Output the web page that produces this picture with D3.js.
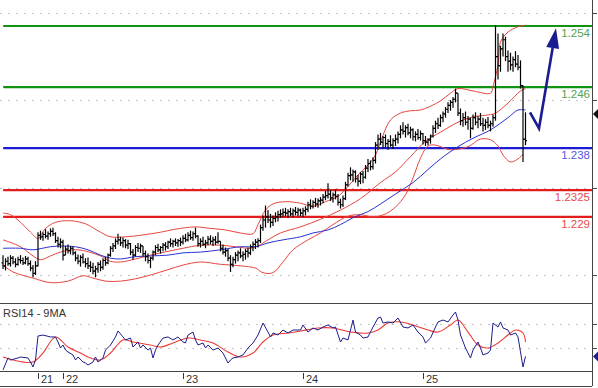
<!DOCTYPE html>
<html>
<head>
<meta charset="utf-8">
<script src="https://cdn.jsdelivr.net/npm/d3@7"></script>
<style>
  body { margin: 0; background: #fff; }
  svg { display: block; }
  text { font-family: "Liberation Sans", Arial, sans-serif; }
</style>
</head>
<body>
<svg id="chart" width="598" height="388"></svg>
<script>
// 30 min bars, prices
const highs = [
  1.2240,1.2236,1.2238,1.2240,1.2239,1.2236,1.2238,1.2240,1.2237,1.2239,1.2238,1.2233,1.2227,1.2232,
  1.2270,1.2272,1.2270,1.2274,1.2271,1.2275,1.2276,1.2270,1.2264,1.2262,1.2260,
  1.2252,1.2254,1.2252,1.2251,1.2245,1.2241,1.2240,1.2242,1.2236,
  1.2237,1.2232,1.2230,1.2226,1.2231,1.2233,1.2236,1.2238,1.2242,
  1.2252,1.2256,1.2262,1.2268,1.2264,1.2263,1.2261,1.2260,
  1.2256,1.2248,1.2253,1.2256,1.2255,1.2252,1.2246,1.2242,1.2238,1.2246,
  1.2253,1.2255,1.2252,1.2256,1.2257,1.2259,1.2262,1.2260,1.2262,1.2261,1.2263,
  1.2266,1.2268,1.2270,1.2272,1.2271,1.2276,
  1.2266,1.2262,1.2264,1.2260,1.2265,1.2266,1.2264,1.2265,1.2270,
  1.2258,1.2254,1.2250,1.2248,1.2240,1.2238,1.2244,
  1.2246,1.2249,1.2245,1.2248,1.2250,1.2254,1.2258,1.2261,1.2262,
  1.2280,1.2292,1.2305,1.2299,1.2294,1.2292,1.2296,1.2298,
  1.2300,1.2301,1.2302,1.2300,1.2302,1.2301,1.2303,1.2302,1.2301,1.2302,1.2304,
  1.2310,1.2313,1.2312,1.2315,1.2314,1.2316,1.2320,1.2324,1.2334,1.2325,1.2322,1.2326,1.2320,1.2314,1.2318,
  1.2336,1.2348,1.2355,1.2352,1.2351,1.2345,1.2349,1.2350,1.2358,1.2366,1.2364,1.2368,
  1.2388,1.2398,1.2400,1.2396,1.2398,1.2392,1.2397,1.2393,1.2398,1.2402,
  1.2410,1.2414,1.2410,1.2412,1.2408,1.2406,1.2402,1.2405,1.2403,1.2400,1.2396,1.2393,1.2398,
  1.2410,1.2416,1.2420,1.2424,1.2428,1.2434,1.2440,1.2443,1.2447,1.2458,
  1.2452,1.2432,1.2426,1.2428,1.2422,1.2420,1.2424,1.2427,1.2422,1.2426,1.2420,1.2418,1.2421,1.2416,1.2424,
  1.2541,1.2530,1.2514,1.2530,1.2526,1.2508,1.2505,1.2500,1.2507,1.2502,1.2495,1.2462,1.2427
];
const lows = [
  1.2222,1.2220,1.2226,1.2225,1.2228,1.2224,1.2226,1.2229,1.2227,1.2228,1.2226,1.2219,1.2211,1.2214,
  1.2225,1.2260,1.2259,1.2262,1.2260,1.2264,1.2265,1.2256,1.2250,1.2249,1.2233,
  1.2240,1.2242,1.2241,1.2240,1.2232,1.2228,1.2225,1.2229,1.2224,
  1.2222,1.2218,1.2215,1.2211,1.2217,1.2219,1.2221,1.2226,1.2228,
  1.2238,1.2244,1.2248,1.2254,1.2252,1.2250,1.2249,1.2248,
  1.2240,1.2234,1.2238,1.2244,1.2243,1.2238,1.2232,1.2229,1.2223,1.2233,
  1.2240,1.2244,1.2242,1.2245,1.2246,1.2248,1.2251,1.2250,1.2252,1.2251,1.2252,
  1.2254,1.2257,1.2258,1.2260,1.2259,1.2262,
  1.2251,1.2250,1.2252,1.2249,1.2253,1.2254,1.2252,1.2253,1.2255,
  1.2245,1.2241,1.2238,1.2232,1.2218,1.2224,1.2229,
  1.2232,1.2236,1.2232,1.2234,1.2237,1.2240,1.2245,1.2248,1.2250,
  1.2256,1.2272,1.2276,1.2282,1.2276,1.2278,1.2283,1.2284,
  1.2289,1.2290,1.2291,1.2289,1.2291,1.2290,1.2292,1.2291,1.2291,1.2290,1.2292,
  1.2296,1.2300,1.2301,1.2303,1.2302,1.2305,1.2308,1.2312,1.2314,1.2311,1.2309,1.2313,1.2305,1.2301,1.2303,
  1.2312,1.2330,1.2338,1.2336,1.2335,1.2330,1.2333,1.2334,1.2340,1.2349,1.2351,1.2352,
  1.2360,1.2378,1.2384,1.2380,1.2381,1.2378,1.2382,1.2379,1.2383,1.2386,
  1.2393,1.2398,1.2394,1.2397,1.2393,1.2390,1.2389,1.2391,1.2390,1.2385,1.2383,1.2384,1.2386,
  1.2394,1.2400,1.2405,1.2408,1.2414,1.2420,1.2426,1.2429,1.2433,1.2440,
  1.2422,1.2410,1.2408,1.2410,1.2404,1.2393,1.2404,1.2410,1.2406,1.2409,1.2402,1.2404,1.2406,1.2402,1.2408,
  1.2416,1.2470,1.2480,1.2500,1.2494,1.2480,1.2482,1.2480,1.2486,1.2482,1.2458,1.2362,1.2384
];
const closes = [
  1.2226,1.2232,1.2229,1.2236,1.2231,1.2228,1.2234,1.2233,1.2230,1.2235,1.2229,1.2223,1.2216,1.2226,
  1.2266,1.2264,1.2267,1.2265,1.2268,1.2271,1.2268,1.2259,1.2254,1.2257,1.2240,
  1.2248,1.2246,1.2249,1.2243,1.2236,1.2232,1.2237,1.2231,1.2229,
  1.2226,1.2224,1.2219,1.2222,1.2228,1.2224,1.2233,1.2230,1.2240,
  1.2249,1.2252,1.2258,1.2260,1.2256,1.2259,1.2253,1.2255,
  1.2244,1.2240,1.2250,1.2249,1.2252,1.2242,1.2238,1.2233,1.2236,1.2244,
  1.2250,1.2247,1.2250,1.2253,1.2251,1.2257,1.2255,1.2258,1.2256,1.2259,1.2257,
  1.2262,1.2260,1.2266,1.2263,1.2268,1.2265,
  1.2255,1.2258,1.2254,1.2256,1.2261,1.2258,1.2260,1.2257,1.2258,
  1.2249,1.2244,1.2246,1.2236,1.2228,1.2234,1.2240,
  1.2243,1.2239,1.2241,1.2245,1.2243,1.2251,1.2254,1.2257,1.2259,
  1.2276,1.2286,1.2290,1.2286,1.2283,1.2288,1.2290,1.2293,
  1.2294,1.2296,1.2295,1.2297,1.2294,1.2298,1.2296,1.2299,1.2295,1.2298,1.2300,
  1.2306,1.2304,1.2309,1.2307,1.2311,1.2312,1.2316,1.2318,1.2320,1.2315,1.2319,1.2317,1.2309,1.2306,1.2314,
  1.2332,1.2344,1.2345,1.2349,1.2340,1.2337,1.2346,1.2342,1.2354,1.2360,1.2356,1.2364,
  1.2384,1.2392,1.2388,1.2394,1.2386,1.2389,1.2384,1.2390,1.2392,1.2398,
  1.2404,1.2402,1.2407,1.2400,1.2404,1.2395,1.2398,1.2394,1.2399,1.2390,1.2388,1.2391,1.2396,
  1.2406,1.2412,1.2410,1.2420,1.2425,1.2431,1.2436,1.2440,1.2444,1.2452,
  1.2426,1.2416,1.2420,1.2414,1.2418,1.2406,1.2420,1.2414,1.2418,1.2412,1.2410,1.2414,1.2410,1.2412,1.2420,
  1.2500,1.2488,1.2510,1.2522,1.2500,1.2494,1.2489,1.2496,1.2490,1.2486,1.2462,1.2392,1.2390
];

// Bollinger bands and long moving average, read as [bar, price]
const bbUpper = [[0,1.2295],[3,1.2293],[7,1.2283],[11,1.2270],[14,1.2262],[17,1.2275],[21,1.2283],[27,1.2285],
  [33,1.2281],[39,1.2270],[43,1.2264],[49,1.2264],[55,1.2266],[63,1.2270],[69,1.2274],[77,1.2277],[83,1.2275],
  [89,1.2273],[95,1.2269],[100,1.2268],[102,1.2280],[105,1.2299],[108,1.2307],[113,1.2310],[119,1.2308],
  [124,1.2304],[129,1.2310],[134,1.2317],[138,1.2330],[142,1.2345],[146,1.2358],[149,1.2371],[152,1.2397],
  [155,1.2417],[159,1.2426],[163,1.2429],[167,1.2430],[171,1.2435],[175,1.2442],[179,1.2452],[182,1.2458],
  [188,1.2455],[195,1.2452],[196,1.2461],[198,1.2489],[199,1.2519],[202,1.2532],[206,1.2539],[209,1.2541]];
const bbMiddle = [[0,1.2260],[7,1.2251],[12,1.2239],[15,1.2234],[19,1.2239],[23,1.2244],[30,1.2247],[39,1.2239],
  [43,1.2232],[47,1.2231],[53,1.2235],[59,1.2240],[66,1.2245],[72,1.2249],[79,1.2253],[87,1.2253],[93,1.2251],
  [99,1.2249],[102,1.2252],[106,1.2260],[111,1.2269],[119,1.2277],[127,1.2287],[135,1.2299],[143,1.2314],
  [151,1.2335],[157,1.2349],[163,1.2369],[169,1.2389],[175,1.2401],[182,1.2414],[188,1.2421],[195,1.2424],
  [197,1.2426],[202,1.2439],[207,1.2455],[209,1.2458]];
const bbLower = [[0,1.2227],[4,1.2218],[12,1.2210],[19,1.2204],[26,1.2206],[32,1.2213],[36,1.2210],[41,1.2206],
  [47,1.2206],[53,1.2209],[59,1.2214],[66,1.2221],[72,1.2227],[79,1.2231],[87,1.2228],[95,1.2226],[101,1.2223],
  [104,1.2217],[108,1.2217],[112,1.2231],[116,1.2247],[122,1.2260],[127,1.2269],[132,1.2280],[138,1.2291],
  [143,1.2293],[148,1.2290],[153,1.2294],[157,1.2303],[161,1.2319],[164,1.2341],[167,1.2367],[170,1.2383],
  [173,1.2384],[179,1.2378],[186,1.2382],[191,1.2392],[195,1.2391],[198,1.2383],[200,1.2371],[203,1.2362],
  [206,1.2366],[208,1.2372]];
const longMA = [[0,1.2249],[7,1.2249],[12,1.2247],[19,1.2251],[24,1.2252],[29,1.2251],[34,1.2247],[39,1.2240],
  [43,1.2236],[47,1.2235],[53,1.2238],[59,1.2239],[66,1.2240],[72,1.2243],[79,1.2244],[87,1.2247],[95,1.2251],
  [101,1.2251],[106,1.2256],[112,1.2260],[119,1.2264],[124,1.2269],[130,1.2273],[135,1.2280],[140,1.2289],
  [146,1.2297],[151,1.2307],[157,1.2320],[164,1.2335],[170,1.2352],[175,1.2366],[182,1.2382],[188,1.2393],
  [195,1.2404],[202,1.2420],[206,1.2430],[209,1.2430]];

// RSI14 and its 9 period average, [bar, value]
const rsi = [[0,21.7],[2,31.7],[3,30],[6,31.7],[7,32.5],[10,31.7],[11,28.3],[12,24.2],[13,30],[14,50],[16,50.8],
  [19,49.2],[21,49.2],[22,45],[23,40],[24,42.5],[25,38.3],[26,36.7],[28,34.2],[29,30],[30,32.5],[32,28.3],
  [33,27.5],[34,25.8],[36,28.3],[37,32.5],[38,28.3],[40,31.7],[41,38.3],[43,42.5],[45,49.2],[46,54.2],[48,49.2],
  [49,46.7],[51,48.3],[52,40.8],[54,45],[55,40],[56,42.5],[58,38.3],[59,40],[60,31.7],[61,38.3],[62,42.5],
  [64,48.3],[66,49.2],[68,46.7],[70,49.2],[72,45],[73,44.2],[74,50.8],[76,53.3],[77,46.7],[78,42.5],[80,44.2],
  [81,40],[82,42.5],[84,38.3],[86,40],[88,35.8],[90,27.5],[91,30],[92,31.7],[94,32.5],[96,34.2],[98,40],
  [100,44.2],[102,50.8],[104,60.8],[106,53.3],[107,49.2],[108,52.5],[110,50.8],[112,55],[114,52.5],[116,55],
  [119,55],[120,59.2],[122,53.3],[124,56.7],[126,55],[128,57.5],[130,59.2],[132,56.7],[133,57.5],[135,45],
  [136,48.3],[138,46.7],[140,63.3],[141,53.3],[143,50.8],[144,48.3],[146,49.2],[148,57.5],[150,65],[151,65.8],
  [152,60.8],[154,61.7],[156,60.8],[158,65],[160,57.5],[162,56.7],[164,59.2],[166,53.3],[168,49.2],[169,44.2],
  [171,48.3],[173,57.5],[174,61.7],[176,63.3],[178,61.7],[180,67.5],[181,70],[182,63.3],[183,50.8],[185,40],
  [187,31.7],[188,38.3],[190,45],[191,40],[192,34.2],[194,35.8],[195,38.3],[196,60.8],[198,57.5],[199,61.7],
  [200,56.7],[202,55],[203,50.8],[205,52.5],[206,49.2],[207,36.7],[208,24.2],[209,33]];
const rsiMA = [[0,32.5],[4,30],[12,28.3],[16,35.8],[21,49.2],[26,40.8],[31,35.8],[35,31.7],[39,30],[43,35.8],
  [48,46.7],[52,45],[59,42.5],[63,40.8],[68,44.2],[74,48.3],[79,46.7],[84,44.2],[90,36.7],[95,32.5],[100,35.8],
  [104,45],[108,50.8],[114,52.5],[119,54.2],[126,56.7],[132,56.7],[139,53.3],[146,52.5],[150,55],[154,60.8],
  [159,61.7],[164,59.2],[170,55],[174,53.3],[179,59.2],[182,63.3],[186,53.3],[190,42.5],[194,40],[198,44.2],
  [202,50.8],[205,55],[208,52.5],[209,45]];

// horizontal support / resistance levels
const levels = [1.254, 1.246, 1.238, 1.2325, 1.229];
const levelLabels = ["1.254", "1.246", "1.238", "1.2325", "1.229"];
const levelKinds = ["res", "res", "pivot", "sup", "sup"];

// projected path drawn after the last bar, [bar, price]
const projection = [[210.8, 1.2427], [214.4, 1.2406], [221.2, 1.2537]];

const priceGrid = [1.2214, 1.2328, 1.2443, 1.2557];
const rsiGrid = [40, 60];
const dayStarts = [14, 24, 72, 120, 168];
const dayLabels = ["21", "22", "23", "24", "25"];

const plotRight = 592;
const main = { top: 0, bottom: 303 };
const sub = { top: 304, bottom: 371 };
const axisBottom = 386;

const levelColor = { res: "#129412", pivot: "#1c1cd6", sup: "#e31c1c" };
const labelColor = { res: "#52a352", pivot: "#5656dc", sup: "#e64a4a" };

const svg = d3.select("#chart");

const x = d3.scaleLinear().domain([0, 209]).range([3, 525.5]);
const y = d3.scaleLinear().domain([1.2214, 1.2557]).range([275, 13]);
const yr = d3.scaleLinear().domain([40, 60]).range([348, 324]);

const defs = svg.append("defs");
defs.append("clipPath").attr("id", "clipMain")
  .append("rect").attr("x", 0).attr("y", main.top).attr("width", plotRight).attr("height", main.bottom - main.top);
defs.append("clipPath").attr("id", "clipSub")
  .append("rect").attr("x", 0).attr("y", sub.top).attr("width", plotRight).attr("height", sub.bottom - sub.top);

// dotted grid
svg.append("g")
  .selectAll("line")
  .data(priceGrid)
  .join("line")
    .attr("x1", 0).attr("x2", plotRight)
    .attr("y1", d => Math.round(y(d)) + 0.5).attr("y2", d => Math.round(y(d)) + 0.5)
    .attr("stroke", "#c4c4c4").attr("stroke-dasharray", "2 6");
svg.append("g")
  .selectAll("line")
  .data(rsiGrid)
  .join("line")
    .attr("x1", 0).attr("x2", plotRight)
    .attr("y1", d => Math.round(yr(d)) + 0.5).attr("y2", d => Math.round(yr(d)) + 0.5)
    .attr("stroke", "#c4c4c4").attr("stroke-dasharray", "2 6");

// levels
const lev = svg.append("g");
lev.selectAll("line")
  .data(levels)
  .join("line")
    .attr("x1", 4).attr("x2", plotRight)
    .attr("y1", d => y(d)).attr("y2", d => y(d))
    .attr("stroke", (d, i) => levelColor[levelKinds[i]])
    .attr("stroke-width", 2.2)
    .attr("stroke-linecap", "round");
lev.selectAll("text")
  .data(levels)
  .join("text")
    .attr("x", plotRight - 2)
    .attr("y", d => y(d) + 11)
    .attr("text-anchor", "end")
    .attr("font-size", 11.5)
    .attr("fill", (d, i) => labelColor[levelKinds[i]])
    .text((d, i) => levelLabels[i]);

// indicator lines
const curve = d3.line().x(d => x(d[0])).y(d => y(d[1])).curve(d3.curveCatmullRom);
const lines = svg.append("g").attr("clip-path", "url(#clipMain)").attr("fill", "none");
[bbUpper, bbMiddle, bbLower].forEach(band => {
  lines.append("path").attr("d", curve(band)).attr("stroke", "#e8463f").attr("stroke-width", 1);
});
lines.append("path").attr("d", curve(longMA)).attr("stroke", "#2a32d4").attr("stroke-width", 1);

// OHLC bars
const bars = svg.append("g").attr("clip-path", "url(#clipMain)")
  .attr("stroke", "#000").attr("stroke-width", 1.2);
const ohlc = closes.map((c, i) => ({
  i, high: highs[i], low: lows[i], close: c, open: i ? closes[i - 1] : 1.2230
}));
bars.selectAll("g")
  .data(ohlc)
  .join("g")
  .each(function (d) {
    const g = d3.select(this);
    const cx = x(d.i);
    g.append("line").attr("x1", cx).attr("x2", cx).attr("y1", y(d.high)).attr("y2", y(d.low));
    g.append("line").attr("x1", cx - 1.5).attr("x2", cx).attr("y1", y(d.open)).attr("y2", y(d.open));
    g.append("line").attr("x1", cx).attr("x2", cx + 1.5).attr("y1", y(d.close)).attr("y2", y(d.close));
  });

// projected arrow
const arrowPts = projection.map(d => [x(d[0]), y(d[1])]);
const tip = arrowPts[arrowPts.length - 1];
const prev = arrowPts[arrowPts.length - 2];
const ang = Math.atan2(tip[1] - prev[1], tip[0] - prev[0]);
const headLen = 20, headHalf = 6.5;
const base = [tip[0] - headLen * Math.cos(ang), tip[1] - headLen * Math.sin(ang)];
svg.append("path")
  .attr("d", d3.line()([arrowPts[0], arrowPts[1], base]))
  .attr("fill", "none").attr("stroke", "#1b1b92").attr("stroke-width", 2.6)
  .attr("stroke-linejoin", "miter");
svg.append("path")
  .attr("d", d3.line()([
    tip,
    [base[0] + headHalf * Math.sin(ang), base[1] - headHalf * Math.cos(ang)],
    [base[0] - headHalf * Math.sin(ang), base[1] + headHalf * Math.cos(ang)]
  ]) + "Z")
  .attr("fill", "#1b1b92");

// RSI panel
const rsiG = svg.append("g").attr("clip-path", "url(#clipSub)").attr("fill", "none");
rsiG.append("path")
  .attr("d", d3.line().x(d => x(d[0])).y(d => yr(d[1])).curve(d3.curveCatmullRom)(rsiMA))
  .attr("stroke", "#ea3b36").attr("stroke-width", 1.1);
rsiG.append("path")
  .attr("d", d3.line().x(d => x(d[0])).y(d => yr(d[1]))(rsi))
  .attr("stroke", "#1e1e8c").attr("stroke-width", 1);

svg.append("text")
  .attr("x", 3).attr("y", sub.top + 13)
  .attr("font-size", 11).attr("fill", "#333")
  .text("RSI14 - 9MA");

// frame
const frame = svg.append("g").attr("stroke", "#444").attr("stroke-width", 1);
frame.append("line").attr("x1", plotRight + 0.5).attr("x2", plotRight + 0.5).attr("y1", 0).attr("y2", axisBottom);
frame.append("line").attr("x1", 0).attr("x2", plotRight).attr("y1", main.bottom + 0.5).attr("y2", main.bottom + 0.5);
frame.append("line").attr("x1", 0).attr("x2", plotRight).attr("y1", sub.bottom + 0.5).attr("y2", sub.bottom + 0.5);
frame.append("line").attr("x1", 0).attr("x2", plotRight).attr("y1", axisBottom + 0.5).attr("y2", axisBottom + 0.5);

// right side ticks
frame.selectAll(".pt")
  .data(priceGrid)
  .join("line")
    .attr("class", "pt")
    .attr("x1", plotRight).attr("x2", plotRight + 5)
    .attr("y1", d => Math.round(y(d)) + 0.5).attr("y2", d => Math.round(y(d)) + 0.5);
frame.selectAll(".rt")
  .data(rsiGrid)
  .join("line")
    .attr("class", "rt")
    .attr("x1", plotRight).attr("x2", plotRight + 5)
    .attr("y1", d => Math.round(yr(d)) + 0.5).attr("y2", d => Math.round(yr(d)) + 0.5);

// last value markers
const lastMA = longMA[longMA.length - 1][1];
const lastRsi = rsi[rsi.length - 1][1];
const marker = (cy, color) => svg.append("path")
  .attr("d", `M${plotRight + 1},${cy} L${plotRight + 6},${cy - 5} L${plotRight + 6},${cy + 5} Z`)
  .attr("fill", color);
marker(y(lastMA) + 4, "#111");
marker(yr(lastRsi), "#1e1e8c");

// day axis
const days = svg.append("g");
days.selectAll("line")
  .data(dayStarts)
  .join("line")
    .attr("x1", d => Math.round(x(d)) + 0.5).attr("x2", d => Math.round(x(d)) + 0.5)
    .attr("y1", sub.bottom + 2).attr("y2", sub.bottom + 8)
    .attr("stroke", "#333");
days.selectAll("text")
  .data(dayStarts)
  .join("text")
    .attr("x", d => x(d) + 3)
    .attr("y", sub.bottom + 12)
    .attr("font-size", 11).attr("fill", "#333")
    .text((d, i) => dayLabels[i]);
</script>
</body>
</html>
